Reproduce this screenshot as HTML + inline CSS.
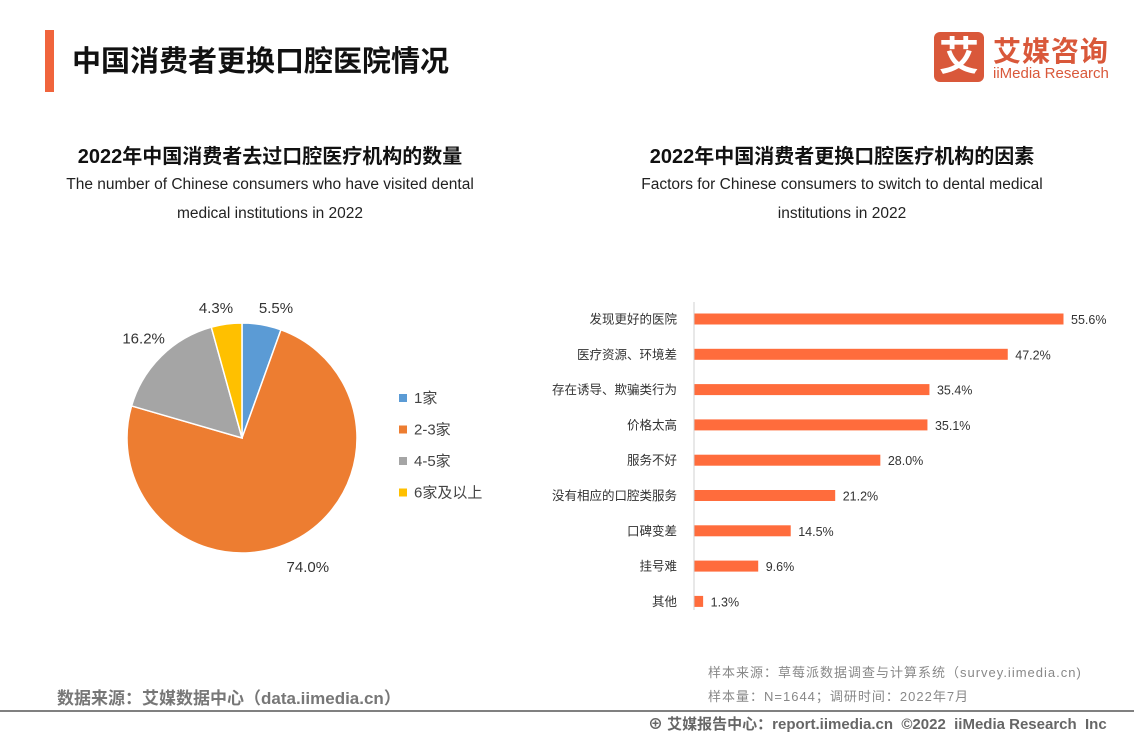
<!DOCTYPE html>
<html><head><meta charset="utf-8"><style>
body{margin:0;width:1134px;height:737px;background:#fff;position:relative;overflow:hidden;font-family:"Liberation Sans","Noto Sans CJK SC",sans-serif;}
.a{position:absolute;white-space:nowrap;}
</style></head><body>
<div class="a" style="left:45px;top:30px;width:9px;height:62px;background:#f0643c"></div>
<div class="a" style="left:72px;top:38px;font-size:29px;font-weight:bold;color:#111">中国消费者更换口腔医院情况</div>
<div class="a" style="left:934px;top:32px;width:50px;height:50px;background:#d9583a;border-radius:6px;color:#fff;font-size:40px;font-weight:bold;text-align:center;line-height:50px">艾</div>
<div class="a" style="left:993px;top:30px;font-size:28px;font-weight:bold;color:#d9583a;letter-spacing:1px">艾媒咨询</div>
<div class="a" style="left:993px;top:65px;font-size:15px;color:#d9583a">iiMedia Research</div>

<div class="a" style="left:0;width:540px;text-align:center;top:140px;font-size:20px;font-weight:bold;color:#111">2022年中国消费者去过口腔医疗机构的数量</div>
<div class="a" style="left:0;width:540px;text-align:center;top:170px;font-size:15.5px;color:#222;line-height:29px;white-space:normal">The number of Chinese consumers who have visited dental<br>medical institutions in 2022</div>
<div class="a" style="left:572px;width:540px;text-align:center;top:140px;font-size:20px;font-weight:bold;color:#111">2022年中国消费者更换口腔医疗机构的因素</div>
<div class="a" style="left:572px;width:540px;text-align:center;top:170px;font-size:15.5px;color:#222;line-height:29px;white-space:normal">Factors for Chinese consumers to switch to dental medical<br>institutions in 2022</div>

<svg class="a" style="left:0;top:0" width="1134" height="737" id="chart"></svg>

<div class="a" style="left:708px;top:662px;font-size:13px;color:#888;letter-spacing:1px">样本来源：草莓派数据调查与计算系统（survey.iimedia.cn)</div>
<div class="a" style="left:708px;top:686px;font-size:13px;color:#888;letter-spacing:1px">样本量：N=1644；调研时间：2022年7月</div>
<div class="a" style="left:57px;top:684px;font-size:17px;font-weight:bold;color:#777">数据来源：艾媒数据中心（data.iimedia.cn）</div>
<div class="a" style="left:0;top:710px;width:1134px;height:2px;background:#808080"></div>
<div class="a" style="left:648px;top:713px;font-size:15px;font-weight:bold;color:#666">⊕ 艾媒报告中心：report.iimedia.cn &nbsp;©2022 &nbsp;iiMedia Research &nbsp;Inc</div>

<script>
const pieLabels=["1家","2-3家","4-5家","6家及以上"];
const pieValues=[5.5,74.0,16.2,4.3];
const pieColors=["#5b9bd5","#ed7d31","#a5a5a5","#ffc000"];
const barCats=["发现更好的医院","医疗资源、环境差","存在诱导、欺骗类行为","价格太高","服务不好","没有相应的口腔类服务","口碑变差","挂号难","其他"];
const barValues=[55.6,47.2,35.4,35.1,28.0,21.2,14.5,9.6,1.3];

const NS="http://www.w3.org/2000/svg";
const svgEl=document.getElementById('chart');
function mk(t,a,txt){const e=document.createElementNS(NS,t);for(const k in a)e.setAttribute(k,a[k]);if(txt!=null)e.textContent=txt;svgEl.appendChild(e);return e;}
// pie
const pcx=242,pcy=438,pr=115;
const pieTotal=pieValues.reduce((s,v)=>s+v,0);
let cum=0;
pieValues.forEach((v,i)=>{
  const a0=cum/pieTotal*2*Math.PI, a1=(cum+v)/pieTotal*2*Math.PI; cum+=v;
  const sx=pcx+pr*Math.sin(a0),sy=pcy-pr*Math.cos(a0),ex=pcx+pr*Math.sin(a1),ey=pcy-pr*Math.cos(a1);
  const p=mk('path',{d:`M${pcx},${pcy}L${sx},${sy}A${pr},${pr} 0 ${a1-a0>Math.PI?1:0} 1 ${ex},${ey}Z`,fill:pieColors[i],stroke:'#fff','stroke-width':1.5});
  
  
  const m=(a0+a1)/2, lr=pr+(v>50?30:25);
  let lx=pcx+lr*Math.sin(m), ly=pcy-lr*Math.cos(m)+5;
  if(i===0){lx=276;ly=313;} if(i===3){lx=216;ly=313;}
  const t=mk('text',{x:lx,y:ly,'font-size':15,fill:'#333','text-anchor':'middle'},v.toFixed(1)+'%');
  
  
  const lg=mk('rect',{x:399,y:394+i*31.5,width:8,height:8,fill:pieColors[i]});
  
  
  const lt=mk('text',{x:414,y:403+i*31.5,'font-size':15,fill:'#444'},pieLabels[i]);
  
  
});
// bars
const barX0=694, barScale=369/55.6, barTop=319, barStep=35.3, barH=11;
const ax=mk('line',{x1:barX0,y1:302,x2:barX0,y2:610,stroke:'#d0d0d0','stroke-width':1});


barCats.forEach((c,i)=>{
  const y=barTop+i*barStep;
  const b=mk('rect',{x:barX0+0.5,y:y-barH/2,width:barValues[i]*barScale,height:barH,fill:'#ff6c3c'});
  
  
  const l=mk('text',{x:677,y:y+4.5,'font-size':12.5,fill:'#333','text-anchor':'end'},c);
  
  
  const v=mk('text',{x:barX0+barValues[i]*barScale+8,y:y+5,'font-size':12.5,fill:'#333'},barValues[i].toFixed(1)+'%');
  
  
});
</script>
</body></html>
